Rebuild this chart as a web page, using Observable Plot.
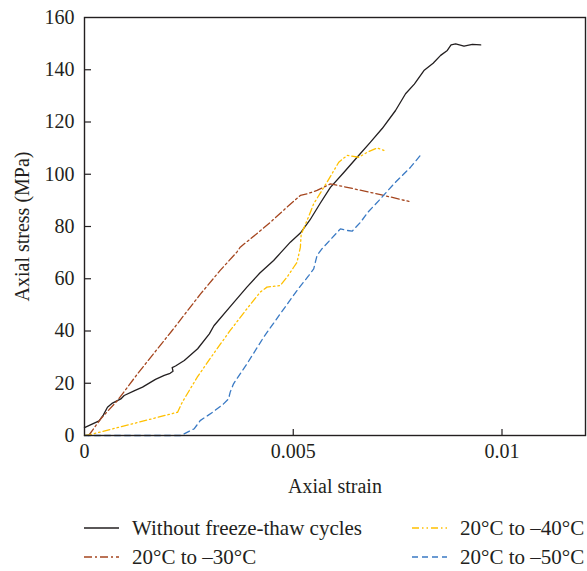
<!DOCTYPE html>
<html>
<head>
<meta charset="utf-8">
<script src="https://cdn.jsdelivr.net/npm/d3@7"></script>
<script src="https://cdn.jsdelivr.net/npm/@observablehq/plot@0.6"></script>
<style>
  html, body { margin: 0; padding: 0; background: #fff; }
  #wrap { width: 587px; font-family: "Liberation Serif", "DejaVu Serif", serif; color: #231f20; }
  #legend { position: relative; width: 587px; height: 71px; font-size: 21px; }
  .item { position: absolute; display: flex; align-items: center; height: 24px; white-space: nowrap; }
  .item svg { margin-right: 13px; }
</style>
</head>
<body>
<div id="wrap"></div>
<script>
// ---- data: [axial strain, axial stress (MPa)] ----
const seriesNames = ["Without freeze-thaw cycles", "20°C to –30°C", "20°C to –40°C", "20°C to –50°C"];

const noFreeze = [[0,3.0],[0.00035,5.6],[0.00045,7.8],[0.00055,10.8],[0.00067,12.4],[0.00087,14.0],[0.00095,15.3],[0.0012,17.2],[0.00139,18.5],[0.0017,21.5],[0.00191,23.0],[0.00205,23.8],[0.00212,24.6],[0.0021,26.0],[0.00218,26.6],[0.00239,28.7],[0.00271,33.2],[0.00299,38.9],[0.0031,42.0],[0.0035,49.5],[0.00389,56.8],[0.0042,62.2],[0.00453,67.0],[0.00469,69.8],[0.00493,74.0],[0.00517,77.5],[0.0054,82.5],[0.00565,89.0],[0.00589,95.0],[0.0062,100.5],[0.00653,106.5],[0.00685,112.3],[0.00713,117.5],[0.00745,124.4],[0.00769,130.8],[0.0079,134.5],[0.00813,139.7],[0.00835,142.5],[0.00853,145.5],[0.00869,147.4],[0.00878,149.5],[0.00889,149.9],[0.00909,149.0],[0.00929,149.7],[0.00949,149.5]];

const minus30 = [[0.0001,0],[0.00039,6.4],[0.00079,13.4],[0.00127,23.6],[0.0021,40.2],[0.00278,54.2],[0.00325,63.2],[0.00365,70.2],[0.00373,72.1],[0.00417,77.8],[0.00445,81.6],[0.00485,87.4],[0.00517,91.9],[0.00533,92.5],[0.00557,93.8],[0.00589,96.3],[0.00629,95.0],[0.00709,92.2],[0.00777,89.6]];

const minus40 = [[0,0],[0.00015,0.4],[0.00223,8.9],[0.00234,12.7],[0.0027,22.3],[0.00309,31.3],[0.00349,40.2],[0.00389,48.5],[0.00421,54.9],[0.00437,56.8],[0.00469,57.4],[0.00485,60.6],[0.00501,64.4],[0.00509,66.3],[0.00517,72.0],[0.00519,77.0],[0.00533,82.3],[0.00549,88.7],[0.00581,97.0],[0.00609,104.6],[0.00629,107.2],[0.00657,106.5],[0.00677,108.4],[0.00701,110.1],[0.00717,109.1]];

const minus50 = [[0,0],[0.00231,0],[0.00263,2.6],[0.00277,5.7],[0.00307,8.9],[0.00333,12.1],[0.00345,14.0],[0.00349,16.6],[0.00357,19.8],[0.00389,27.4],[0.00429,37.6],[0.00469,46.6],[0.00509,55.5],[0.00537,61.2],[0.00549,63.8],[0.00557,68.9],[0.00569,71.5],[0.00613,79.1],[0.00629,78.5],[0.00641,78.2],[0.00661,81.6],[0.00679,85.5],[0.00709,90.6],[0.00741,96.3],[0.00781,102.7],[0.00809,108.1]];

const xTicks = [0, 0.005, 0.01];
const xTickLabels = ["0", "0.005", "0.01"];
const yTicks = [0, 20, 40, 60, 80, 100, 120, 140, 160];
const yTickLabels = ["0", "20", "40", "60", "80", "100", "120", "140", "160"];

const colors = ["#231f20", "#a5461f", "#ffc000", "#3a7ac4"];
const dashes = [null, "8,3,2,3", "7,3,1.5,3,1.5,3", "6,4"];
const allSeries = [noFreeze, minus30, minus40, minus50];

const W = 587, H = 500, mL = 84, mR = 2, mT = 17, mB = 65;
const innerW = W - mL - mR, innerH = H - mT - mB;

const lineMarks = allSeries.map((s, i) => Plot.line(s, {
  x: d => d[0], y: d => d[1], stroke: colors[i], strokeWidth: 1.3,
  strokeDasharray: dashes[i] || undefined, curve: "linear"
}));

const chart = Plot.plot({
  width: W, height: H,
  marginLeft: mL, marginRight: mR, marginTop: mT, marginBottom: mB,
  style: { fontFamily: "'Liberation Serif', serif", fontSize: "20px", color: "#231f20", background: "#fff", overflow: "visible" },
  x: { domain: [0, 0.012] },
  y: { domain: [0, 160] },
  marks: [
    Plot.axisX({ ticks: xTicks, tickSize: 0, tickPadding: 8, tickFormat: d => xTickLabels[xTicks.indexOf(d)],
      label: "Axial strain", labelAnchor: "center", labelOffset: 57, labelArrow: "none", fontSize: 20 }),
    Plot.axisY({ ticks: yTicks, tickSize: 0, tickPadding: 10, tickFormat: d => yTickLabels[yTicks.indexOf(d)],
      label: "Axial stress (MPa)", labelAnchor: "center", labelOffset: 70, labelArrow: "none", fontSize: 20 }),
    Plot.tickX(xTicks.slice(1), { x: d => d, insetTop: innerH - 6, stroke: "#231f20", strokeWidth: 1.2 }),
    Plot.tickY(yTicks.slice(1, -1), { y: d => d, insetRight: innerW - 7, stroke: "#231f20", strokeWidth: 1.2 }),
    ...lineMarks,
    Plot.frame({ stroke: "#231f20", strokeWidth: 1.4 })
  ]
});
document.getElementById("wrap").appendChild(chart);

// ---- legend ----
const legend = document.createElement("div");
legend.id = "legend";
const pos = [[84, 16], [84, 45], [412, 16], [412, 45]];
[0, 1, 2, 3].forEach(i => {
  const it = document.createElement("div");
  it.className = "item";
  it.style.left = pos[i][0] + "px";
  it.style.top = pos[i][1] + "px";
  const ns = "http://www.w3.org/2000/svg";
  const sv = document.createElementNS(ns, "svg");
  sv.setAttribute("width", 35); sv.setAttribute("height", 10);
  const ln = document.createElementNS(ns, "line");
  ln.setAttribute("x1", 0); ln.setAttribute("x2", 35); ln.setAttribute("y1", 5); ln.setAttribute("y2", 5);
  ln.setAttribute("stroke", colors[i]); ln.setAttribute("stroke-width", 1.5);
  if (dashes[i]) ln.setAttribute("stroke-dasharray", dashes[i]);
  sv.appendChild(ln);
  it.appendChild(sv);
  const tx = document.createElement("span");
  tx.textContent = seriesNames[i];
  it.appendChild(tx);
  legend.appendChild(it);
});
document.getElementById("wrap").appendChild(legend);
</script>
</body>
</html>
